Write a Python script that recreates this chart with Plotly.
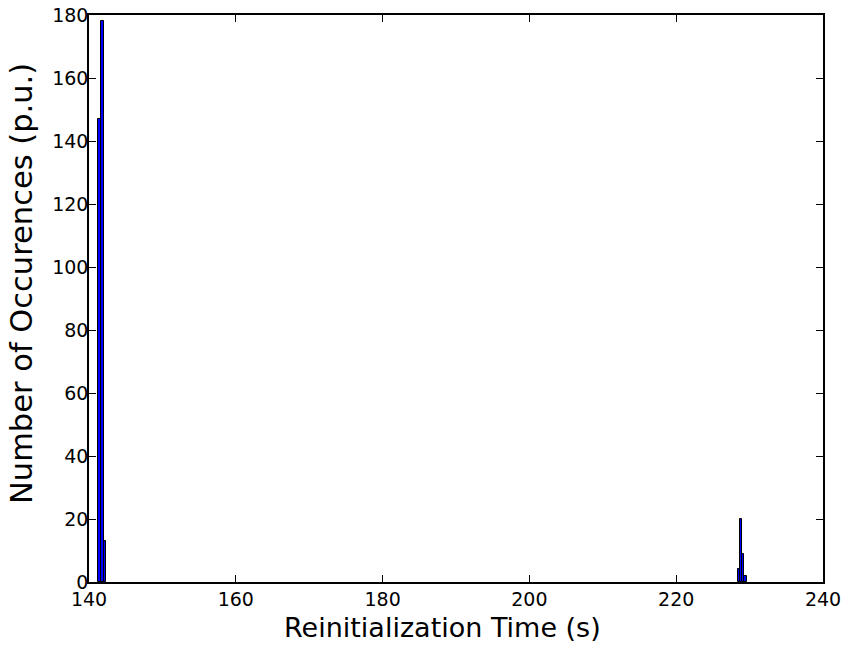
import plotly.graph_objects as go

# histogram bins: left edges, right edges, counts
bin_left = [141.28, 141.64, 142.00, 228.46, 228.73, 229.00, 229.22]
bin_right = [141.64, 142.00, 142.37, 228.73, 229.00, 229.22, 229.70]
counts = [147, 178, 13, 4, 20, 9, 2]

x_ticks = [140, 160, 180, 200, 220, 240]
y_ticks = [0, 20, 40, 60, 80, 100, 120, 140, 160, 180]

x_title = "Reinitialization Time (s)"
y_title = "Number of Occurences (p.u.)"

centers = [(a + b) / 2 for a, b in zip(bin_left, bin_right)]
widths = [b - a for a, b in zip(bin_left, bin_right)]

fig = go.Figure(go.Bar(
    x=centers, y=counts, width=widths,
    marker=dict(color="#0000ff", line=dict(color="black", width=1)),
))

font = "DejaVu Sans"
fig.update_layout(
    width=843, height=646,
    margin=dict(l=89, r=20, t=15, b=64),
    plot_bgcolor="white", paper_bgcolor="white",
    showlegend=False,
    font=dict(family=font, color="black"),
    bargap=0,
    annotations=[
        dict(text=x_title, xref="paper", yref="paper", x=0.482, y=0,
             xanchor="center", yanchor="middle", yshift=-45, showarrow=False,
             font=dict(size=27, family=font, color="black")),
        dict(text=y_title, xref="paper", yref="paper", x=0, y=0.5256,
             xanchor="center", yanchor="middle", xshift=-67, showarrow=False,
             textangle=-90, font=dict(size=30.5, family=font, color="black")),
    ],
)
fig.update_xaxes(
    range=[140, 240], tickvals=x_ticks, ticktext=[str(v) for v in x_ticks],
    ticks="inside", ticklen=7, tickwidth=1, tickcolor="black",
    showline=True, linecolor="black", linewidth=1.5, mirror="ticks",
    showgrid=False, zeroline=False, automargin=False,
    tickfont=dict(size=19, family=font), ticklabelstandoff=-1,
    ticklabeloverflow="allow",
)
fig.update_yaxes(
    range=[0, 180], tickvals=y_ticks, ticktext=[str(v) for v in y_ticks],
    ticks="inside", ticklen=7, tickwidth=1, tickcolor="black",
    showline=True, linecolor="black", linewidth=1.5, mirror="ticks",
    showgrid=False, zeroline=False, automargin=False,
    tickfont=dict(size=19, family=font), ticklabelstandoff=-5,
    ticklabeloverflow="allow",
)

fig.write_html(
    "out.html",
    config={"displayModeBar": False},
    post_script="document.body.style.margin='0';document.body.style.overflow='hidden';",
)
